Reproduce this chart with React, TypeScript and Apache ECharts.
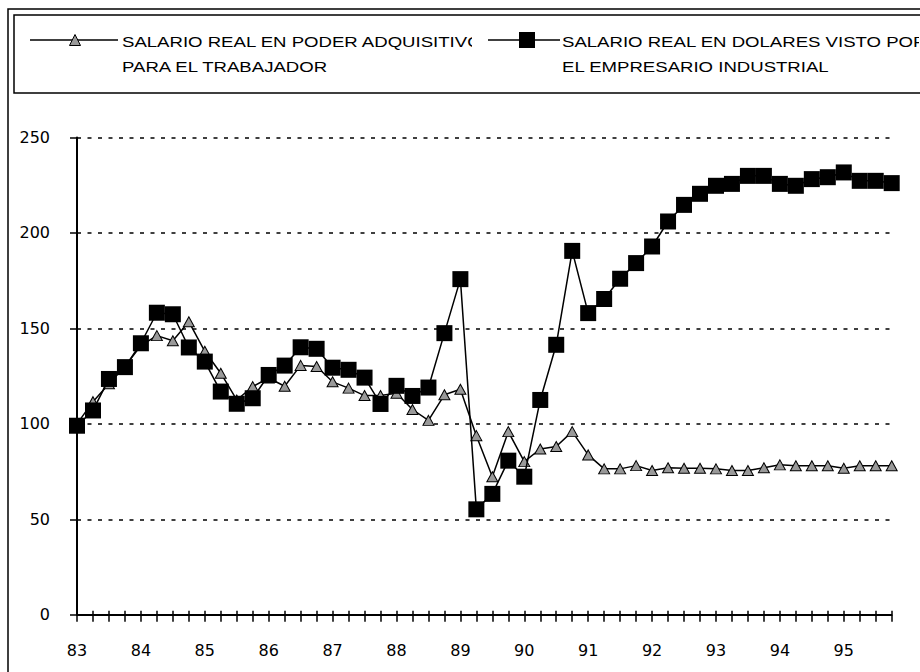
import React, { useEffect, useRef } from "react";
import * as echarts from "echarts";

const years = ["83", "84", "85", "86", "87", "88", "89", "90", "91", "92", "93", "94", "95"];
const quarters = ["1", "2", "3", "4"];
const categories: string[] = [];
years.forEach((y) => quarters.forEach((q) => categories.push(y + "-" + q)));

const seriesNames = [
  "SALARIO REAL EN PODER ADQUISITIVO\nPARA EL TRABAJADOR",
  "SALARIO REAL EN DOLARES VISTO POR\nEL EMPRESARIO INDUSTRIAL",
];

const poderAdquisitivo = [
  100, 111.6, 121, 130, 141, 146.2, 143.5, 153.5, 138, 126.5, 112.5, 119.5, 124,
  119.7, 130.6, 130, 122, 118.7, 114.8, 114.8, 116, 107.5, 101.8, 115.2, 118.1, 93.8,
  72.3, 95.9, 80.2, 86.8, 88.1, 95.9, 83.7, 76.4, 76.4, 78.1, 75.5, 77, 76.7, 76.7,
  76.4, 75.5, 75.5, 77, 78.5, 78, 78, 78, 76.7, 78, 78, 78,
];

const dolaresEmpresario = [
  99, 107, 123.5, 129.7, 142.2, 158.2, 157.4, 140, 132.6, 116.9, 110.5, 113.4, 125.6,
  130.5, 140.1, 139.3, 129.4, 128.3, 124.2, 110.4, 119.9, 114.6, 119, 147.5, 175.8,
  55.2, 63.3, 80.7, 72.3, 112.5, 141.4, 190.6, 158, 165.4, 176, 184.2, 192.9, 206,
  214.7, 220.5, 224.7, 225.7, 229.9, 229.9, 225.7, 224.7, 228.2, 229.2, 231.7, 227.3,
  227.3, 226.1,
];

const FONT = "'Liberation Sans', Arial, sans-serif";
const AXIS_FONT = "'DejaVu Sans', sans-serif";
const SX = 1.24;

export default function App() {
  const ref = useRef<HTMLDivElement>(null);
  useEffect(() => {
    if (!ref.current) return;
    const chart = echarts.init(ref.current, null, { renderer: "svg" });
    const [name1, name2] = seriesNames;
    const l1 = name1.split("\n");
    const l2 = name2.split("\n");
    const txt = (x: number, y: number, t: string) => ({
      type: "text",
      x,
      y,
      scaleX: SX,
      style: { text: t, fill: "#000", font: "15px " + FONT, verticalAlign: "middle", textVerticalAlign: "middle" },
      z: 10,
    });
    chart.setOption({
      animation: false,
      backgroundColor: "#fff",
      textStyle: { fontFamily: FONT },
      grid: { left: 77, right: 28.3, top: 137.5, bottom: 57.3, containLabel: false },
      xAxis: [
        {
          type: "category",
          data: categories,
          boundaryGap: false,
          axisLine: { lineStyle: { color: "#000", width: 2 } },
          axisTick: { show: true, interval: 0, inside: false, length: 7, lineStyle: { color: "#000", width: 1.5 } },
          axisLabel: {
            interval: 3,
            margin: 28,
            color: "#000",
            fontSize: 16,
            fontFamily: AXIS_FONT,
            formatter: (v: string) => v.split("-")[0],
          },
          splitLine: { show: false },
        },
        {
          type: "category",
          data: categories,
          position: "bottom",
          boundaryGap: false,
          axisLine: { show: false },
          axisTick: { show: true, interval: 0, inside: true, length: 4, lineStyle: { color: "#000", width: 1.5 } },
          axisLabel: { show: false },
          splitLine: { show: false },
        },
      ],
      yAxis: {
        type: "value",
        min: 0,
        max: 250,
        interval: 50,
        axisLine: { show: true, lineStyle: { color: "#000", width: 2 } },
        axisTick: { show: true, length: 7, lineStyle: { color: "#000", width: 1.5 } },
        axisLabel: { color: "#000", fontSize: 16, margin: 27, fontFamily: AXIS_FONT },
        splitLine: { show: true, lineStyle: { color: "#000", width: 1.5, type: [4, 6.5] } },
      },
      series: [
        {
          name: name1,
          type: "line",
          data: poderAdquisitivo,
          symbol: "triangle",
          symbolSize: [11, 10],
          showAllSymbol: true,
          lineStyle: { color: "#000", width: 1.5 },
          itemStyle: { color: "#999", borderColor: "#000", borderWidth: 1 },
          z: 2,
        },
        {
          name: name2,
          type: "line",
          data: dolaresEmpresario,
          symbol: "rect",
          symbolSize: 16,
          showAllSymbol: true,
          lineStyle: { color: "#000", width: 1.5 },
          itemStyle: { color: "#000", borderColor: "#000", borderWidth: 0 },
          z: 3,
        },
      ],
      graphic: [
        { type: "rect", shape: { x: 8, y: 9, width: 1200, height: 1200 }, style: { fill: "none", stroke: "#000", lineWidth: 1.5 }, silent: true, z: 1 },
        { type: "rect", shape: { x: 14, y: 15, width: 1200, height: 78 }, style: { fill: "none", stroke: "#000", lineWidth: 1.5 }, silent: true, z: 1 },
        { type: "line", shape: { x1: 30, y1: 40, x2: 118, y2: 40 }, style: { stroke: "#000", lineWidth: 1.5 }, z: 10 },
        { type: "polygon", shape: { points: [[75, 34.5], [80.5, 45.5], [69.5, 45.5]] }, style: { fill: "#999", stroke: "#000", lineWidth: 1 }, z: 11 },
        txt(122, 42, l1[0]),
        txt(122, 67, l1[1]),
        { type: "rect", shape: { x: 472, y: 28, width: 15, height: 28 }, style: { fill: "#fff" }, z: 12 },
        { type: "line", shape: { x1: 488, y1: 40, x2: 560, y2: 40 }, style: { stroke: "#000", lineWidth: 1.5 }, z: 13 },
        { type: "rect", shape: { x: 519, y: 32, width: 16, height: 16 }, style: { fill: "#000" }, z: 13 },
        txt(562, 42, l2[0]),
        txt(562, 67, l2[1]),
        { type: "rect", shape: { x: 919, y: 28, width: 10, height: 28 }, style: { fill: "#fff" }, z: 12 },
      ],
    });
    return () => chart.dispose();
  }, []);
  return (
    <div
      ref={ref}
      style={{ position: "fixed", left: 0, top: 0, width: 920, height: 672, background: "#fff" }}
    />
  );
}
